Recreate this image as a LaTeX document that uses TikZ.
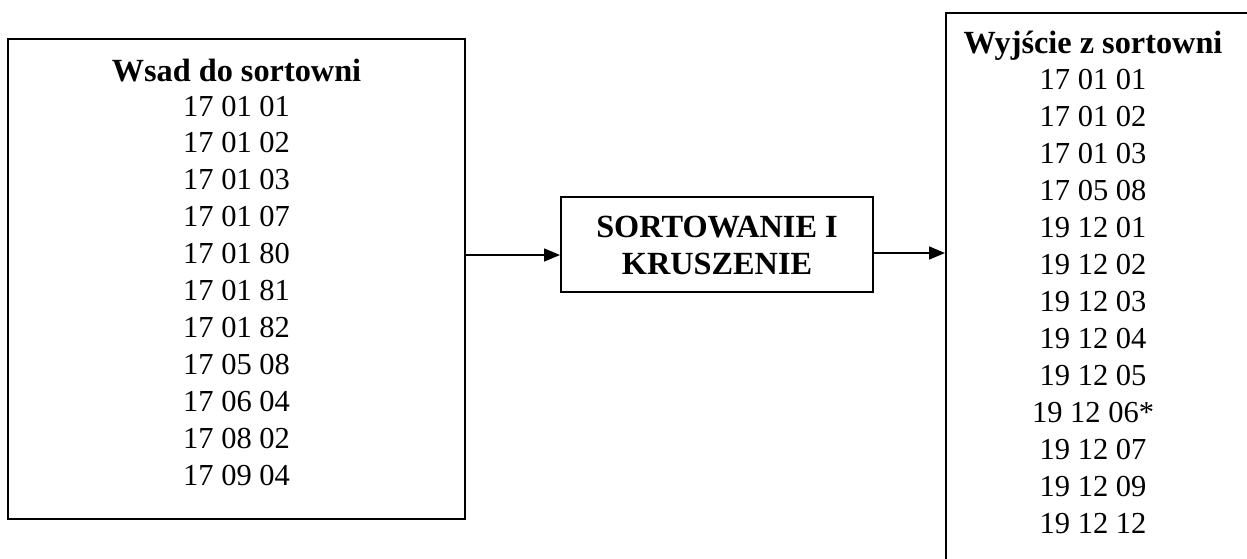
\documentclass[tikz,border=0pt]{standalone}
\usepackage{fontspec}
\setmainfont{Liberation Serif}
\usetikzlibrary{arrows.meta}
\tikzset{
  pudlo/.style={draw, line width=2pt, inner sep=0pt},
  kod/.style={anchor=base, inner sep=0pt, font=\fontsize{30.5}{37}\selectfont},
  naglowek/.style={kod, font=\fontsize{32.3}{37}\selectfont\bfseries},
  strzalka/.style={line width=1.5pt, -{Triangle[length=16pt, width=13pt]}}
}
\begin{document}
\begin{tikzpicture}[x=1pt, y=-1pt]
\clip (0,0) rectangle (1247,558);
\fill[white] (0,0) rectangle (1247,558);

\node[pudlo, minimum width=457pt, minimum height=480pt] (wsad) at (236.5,279) {};
\node[pudlo, minimum width=312pt, minimum height=95pt] (sort) at (717,244.5) {};
\node[pudlo, anchor=north west, minimum width=330pt, minimum height=600pt] (wyj) at (945,12) {};

\node[naglowek] (wsadtyt) at (236.5,81) {Wsad do sortowni};
\foreach \kod [count=\i] in {17 01 01, 17 01 02, 17 01 03, 17 01 07, 17 01 80,
  17 01 81, 17 01 82, 17 05 08, 17 06 04, 17 08 02, 17 09 04}
  \node[kod] (w\i) at (236.5,{116+36.9*(\i-1)}) {\kod};

\node[naglowek] (sort1) at (717,237) {SORTOWANIE I};
\node[naglowek] (sort2) at (717,274) {KRUSZENIE};

\node[naglowek] (wyjtyt) at (1093,53) {Wyjście z sortowni};
\foreach \kod [count=\i] in {17 01 01, 17 01 02, 17 01 03, 17 05 08, 19 12 01,
  19 12 02, 19 12 03, 19 12 04, 19 12 05, 19 12 06*, 19 12 07, 19 12 09, 19 12 12}
  \node[kod] (v\i) at (1093,{89+37*(\i-1)}) {\kod};

\coordinate (s1) at (0,255);
\coordinate (s2) at (0,253);
\draw[strzalka] (wsad.east |- s1) -- (sort.west |- s1);
\draw[strzalka] (sort.east |- s2) -- (wyj.west |- s2);
\end{tikzpicture}
\end{document}
